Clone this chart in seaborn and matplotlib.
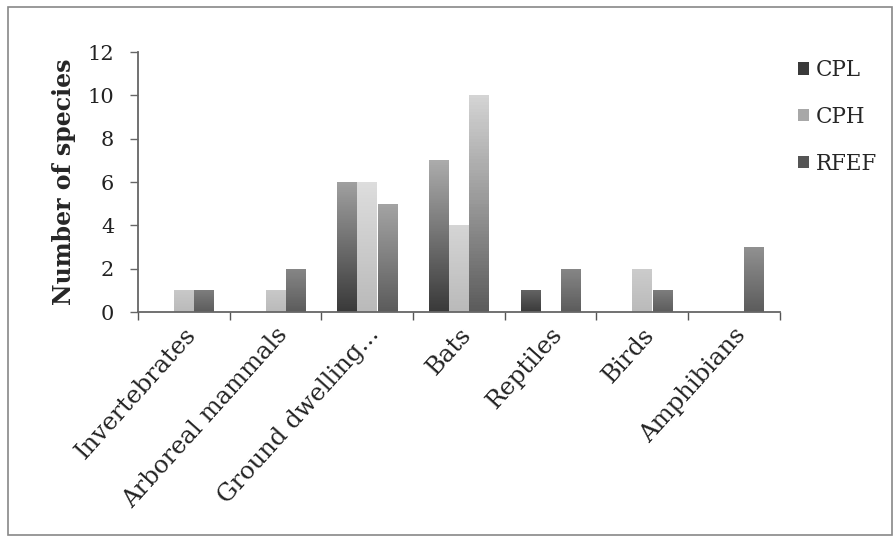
import numpy as np
import pandas as pd
import matplotlib
matplotlib.use("Agg")
import matplotlib.pyplot as plt
import seaborn as sns
from matplotlib.colors import LinearSegmentedColormap
from matplotlib.patches import Rectangle, Patch

# Data
groups = ['Invertebrates', 'Arboreal mammals', 'Ground dwelling...', 'Bats',
          'Reptiles', 'Birds', 'Amphibians']
sites = ['CPL', 'CPH', 'RFEF']
cpl = [0, 0, 6, 7, 1, 0, 0]
cph = [1, 1, 6, 4, 0, 2, 0]
rfef = [1, 2, 5, 10, 2, 1, 3]

df = pd.DataFrame({
    'group': groups * 3,
    'site': ['CPL'] * 7 + ['CPH'] * 7 + ['RFEF'] * 7,
    'count': cpl + cph + rfef,
})

# gradient (bottom colour, top colour) per site
grad = {'CPL': ('#3a3a3a', '#cfcfcf'),
        'CPH': ('#bababa', '#eeeeee'),
        'RFEF': ('#5c5c5c', '#d4d4d4')}
base = {'CPL': '#3a3a3a', 'CPH': '#a8a8a8', 'RFEF': '#555555'}

sns.set_style('white')
plt.rcParams['font.family'] = ['DejaVu Serif']

fig = plt.figure(figsize=(8.95, 5.38), dpi=100)
ax = fig.add_axes([0.154, 0.42, 0.717, 0.483])

sns.barplot(data=df, x='group', y='count', hue='site', hue_order=sites,
            palette=base, width=0.66, gap=0.04, legend=False, ax=ax)

# replace flat fills with vertical gradients
for container, site in zip(ax.containers, sites):
    cmap = LinearSegmentedColormap.from_list(site, [grad[site][0], grad[site][1]])
    for bar in container:
        h = bar.get_height()
        if h <= 0:
            bar.set_visible(False)
            continue
        x0 = bar.get_x()
        w = bar.get_width()
        top = 0.2 + 0.8 * h / 10
        g = np.linspace(0, top, 64).reshape(-1, 1)
        im = ax.imshow(g, cmap=cmap, vmin=0, vmax=1, origin='lower', aspect='auto',
                       extent=[x0, x0 + w, 0, h], zorder=2)
        im.set_clip_path(bar)
        bar.set_facecolor('none')
        bar.set_edgecolor('none')

ax.set_xlim(-0.5, 6.5)
ax.set_ylim(0, 12)
ax.set_yticks(range(0, 13, 2))
ax.tick_params(axis='y', labelsize=15, length=6, width=1, direction='out',
               left=True, color='#666666', labelcolor='#222222', pad=11)
ax.tick_params(axis='x', which='major', length=0, labelsize=17.5,
               labelcolor='#222222', pad=8)
ax.set_xticks(np.arange(-0.5, 7, 1), minor=True)
ax.tick_params(axis='x', which='minor', length=6, width=1, bottom=True,
               direction='out', color='#555555')
for lab in ax.get_xticklabels():
    lab.set_rotation(48)
    lab.set_ha('right')
    lab.set_rotation_mode('anchor')

sns.despine(ax=ax)
for s in ['left', 'bottom']:
    ax.spines[s].set_color('#666666')
    ax.spines[s].set_linewidth(1.3)

ax.set_xlabel('')
ax.set_ylabel('Number of species', fontsize=17, fontweight='bold', labelpad=8)

handles = [Patch(facecolor=base[s], edgecolor='none') for s in sites]
fig.legend(handles, sites, loc='upper left', bbox_to_anchor=(0.892, 0.89),
           frameon=False, fontsize=15.5, handlelength=0.5, handleheight=0.5,
           handletextpad=0.3, labelspacing=1.15, borderpad=0, borderaxespad=0)

fig.patches.append(Rectangle((0.009, 0.005), 0.988, 0.982, transform=fig.transFigure,
                             fill=False, edgecolor='#888888', linewidth=1.2))

fig.savefig('out.png', dpi=100)
